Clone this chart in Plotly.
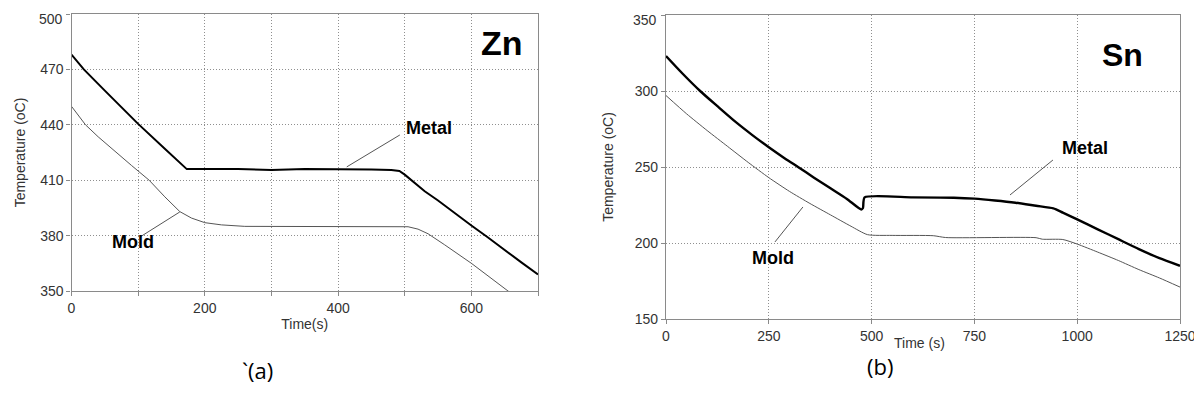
import plotly.graph_objects as go

# ---- Zn (a) ----
zn_metal_t = [0, 8, 18.5, 50, 78.5, 100, 140, 173, 250, 300, 350, 400, 450, 480, 492, 500, 510, 530, 550, 575, 600, 625, 650, 675, 700]
zn_metal_T = [478, 474.5, 470, 458.5, 448, 440.5, 427, 416, 416, 415.5, 416, 416, 415.8, 415.5, 415, 413, 410, 404, 399, 392, 385.5, 379, 372, 365.5, 359]
zn_mold_t = [0, 10, 21, 40, 65, 90, 116.5, 140, 162.5, 180, 200, 225, 260, 300, 400, 480, 505, 520, 535, 560, 600, 655, 700]
zn_mold_T = [450, 445, 440, 433.5, 425.5, 418, 410, 401, 393, 389.5, 387, 385.8, 385, 385, 385.2, 385, 384.8, 383.5, 381, 375, 365, 350, 339]
zn_yticks = [350, 380, 410, 440, 470, 500]

# ---- Sn (b) ----
sn_metal_t = [0, 40, 83, 125, 170, 210, 250, 290, 321, 360, 400, 440, 475, 479, 483, 600, 700, 750, 800, 850, 900,
              942, 965, 1000, 1050, 1100, 1150, 1200, 1250]
sn_metal_T = [323, 311.5, 300, 290, 279.5, 271, 263, 255.5, 250, 243, 236, 229, 222, 223, 230, 230, 229.8, 229.2,
              228, 226.5, 224.5, 222.8, 220, 215.5, 209, 202.5, 196, 190, 185]
sn_mold_t = [0, 50, 100, 150, 200, 250, 300, 350, 400, 450, 490, 550, 650, 680, 900, 915, 965, 1000, 1050, 1100,
             1150, 1200, 1250]
sn_mold_T = [297, 285, 274, 263.5, 253, 243, 234, 226, 218.5, 211, 205.5, 205, 204.8, 203.6, 203.5, 202.5, 202.3,
             199.3, 194, 188.5, 182.5, 177, 171]
sn_yticks = [150, 200, 250, 300, 350]

# page shows the figure offset by the 8px body margin
OFF = 8
W, H = 1202 - OFF, 401 - OFF
FONT = "Liberation Sans, Arial, sans-serif"
AX_COL = "#8a8a8a"
GRID_COL = "#8f8f8f"
TXT_COL = "#333333"

fig = go.Figure()
fig.add_trace(go.Scatter(x=zn_metal_t, y=zn_metal_T, mode="lines", line=dict(color="black", width=2),
                         xaxis="x", yaxis="y", name="Metal"))
fig.add_trace(go.Scatter(x=zn_mold_t, y=zn_mold_T, mode="lines", line=dict(color="#555555", width=1),
                         xaxis="x", yaxis="y", name="Mold"))
fig.add_trace(go.Scatter(x=sn_metal_t, y=sn_metal_T, mode="lines",
                         line=dict(color="black", width=2.4, shape="spline", smoothing=0.6),
                         xaxis="x2", yaxis="y2", name="Metal"))
fig.add_trace(go.Scatter(x=sn_mold_t, y=sn_mold_T, mode="lines",
                         line=dict(color="#555555", width=1, shape="spline", smoothing=0.6),
                         xaxis="x2", yaxis="y2", name="Mold"))


def ax_common():
    return dict(showline=True, linecolor=AX_COL, linewidth=1.3, mirror=True, automargin=False,
                showgrid=True, gridcolor=GRID_COL, gridwidth=1, griddash="1px,2px",
                ticks="outside", ticklen=4, tickcolor=AX_COL, zeroline=False, ticklabeloverflow="allow",
                tickfont=dict(family=FONT, size=14, color=TXT_COL),
                title_font=dict(family=FONT, size=14, color=TXT_COL))


def px_x(x):
    return (x - OFF) / W


def px_y(y):
    return 1 - (y - OFF) / H


# top tick label drawn separately (sits slightly below the top edge, as in the reference)
zn_ytext = [str(v) for v in zn_yticks[:-1]] + [""]
sn_ytext = [str(v) for v in sn_yticks[:-1]] + [""]

fig.update_layout(
    width=W, height=H, margin=dict(l=0, r=0, t=0, b=0, autoexpand=False),
    paper_bgcolor="white", plot_bgcolor="white", showlegend=False,
    xaxis=dict(ax_common(), domain=[px_x(71.5), px_x(538)], anchor="y", range=[0, 700], dtick=200, tick0=0,
               minor=dict(dtick=100, showgrid=True, gridcolor=GRID_COL, griddash="1px,2px", ticks="outside",
                          ticklen=4, tickcolor=AX_COL),
               title=dict(text="Time(s)", standoff=2)),
    yaxis=dict(ax_common(), domain=[px_y(291), px_y(14)], anchor="x", range=[350, 500],
               tickmode="array", tickvals=zn_yticks, ticktext=zn_ytext,
               title=dict(text="Temperature (oC)", standoff=11)),
    xaxis2=dict(ax_common(), domain=[px_x(666), px_x(1180)], anchor="y2", range=[0, 1250], dtick=250, tick0=0),
    yaxis2=dict(ax_common(), domain=[px_y(319), px_y(15)], anchor="x2", range=[150, 350],
                tickmode="array", tickvals=sn_yticks, ticktext=sn_ytext,
                title=dict(text="Temperature (oC)", standoff=17)),
)

fig.add_annotation(xref="paper", yref="paper", x=px_x(919), y=px_y(343), xanchor="center", yanchor="middle",
                   text="Time (s)", showarrow=False, font=dict(family=FONT, size=14, color=TXT_COL))

fig.add_annotation(xref="paper", yref="paper", x=px_x(64.5), y=px_y(19), xanchor="right", yanchor="middle",
                   text=str(zn_yticks[-1]), showarrow=False, font=dict(family=FONT, size=14, color=TXT_COL))
fig.add_annotation(xref="paper", yref="paper", x=px_x(659), y=px_y(20), xanchor="right", yanchor="middle",
                   text=str(sn_yticks[-1]), showarrow=False, font=dict(family=FONT, size=14, color=TXT_COL))

# leader lines
leaders = [
    ("x", "y", 492.7, 434.5, 413, 417.2),
    ("x", "y", 102.6, 379.2, 162.5, 392.8),
    ("x2", "y2", 941, 254.6, 836.6, 231.6),
    ("x2", "y2", 265, 200.7, 333, 223.7),
]
for xr, yr, x0, y0, x1, y1 in leaders:
    fig.add_shape(type="line", xref=xr, yref=yr, x0=x0, y0=y0, x1=x1, y1=y1,
                  line=dict(color="#555555", width=1))

labels = [
    ("x", "y", 536, 438.3, "Metal", 18),
    ("x", "y", 92, 376.5, "Mold", 18),
    ("x", "y", 646, 484.3, "Zn", 34),
    ("x2", "y2", 1019, 262.5, "Metal", 18),
    ("x2", "y2", 260, 190, "Mold", 18),
    ("x2", "y2", 1111, 324, "Sn", 32),
]
for xr, yr, x, y, t, s in labels:
    fig.add_annotation(xref=xr, yref=yr, x=x, y=y, text="<b>%s</b>" % t, showarrow=False,
                       font=dict(family=FONT, size=s, color="black"))

fig.add_annotation(xref="paper", yref="paper", x=px_x(240), y=px_y(387), text="`(a)", showarrow=False,
                   font=dict(family="Open Sans, Noto Sans, sans-serif", size=22, color="black"))
fig.add_annotation(xref="paper", yref="paper", x=px_x(895), y=px_y(383), text="(b)", showarrow=False,
                   font=dict(family="Open Sans, Noto Sans, sans-serif", size=22, color="black"))

fig.write_html("out.html")
